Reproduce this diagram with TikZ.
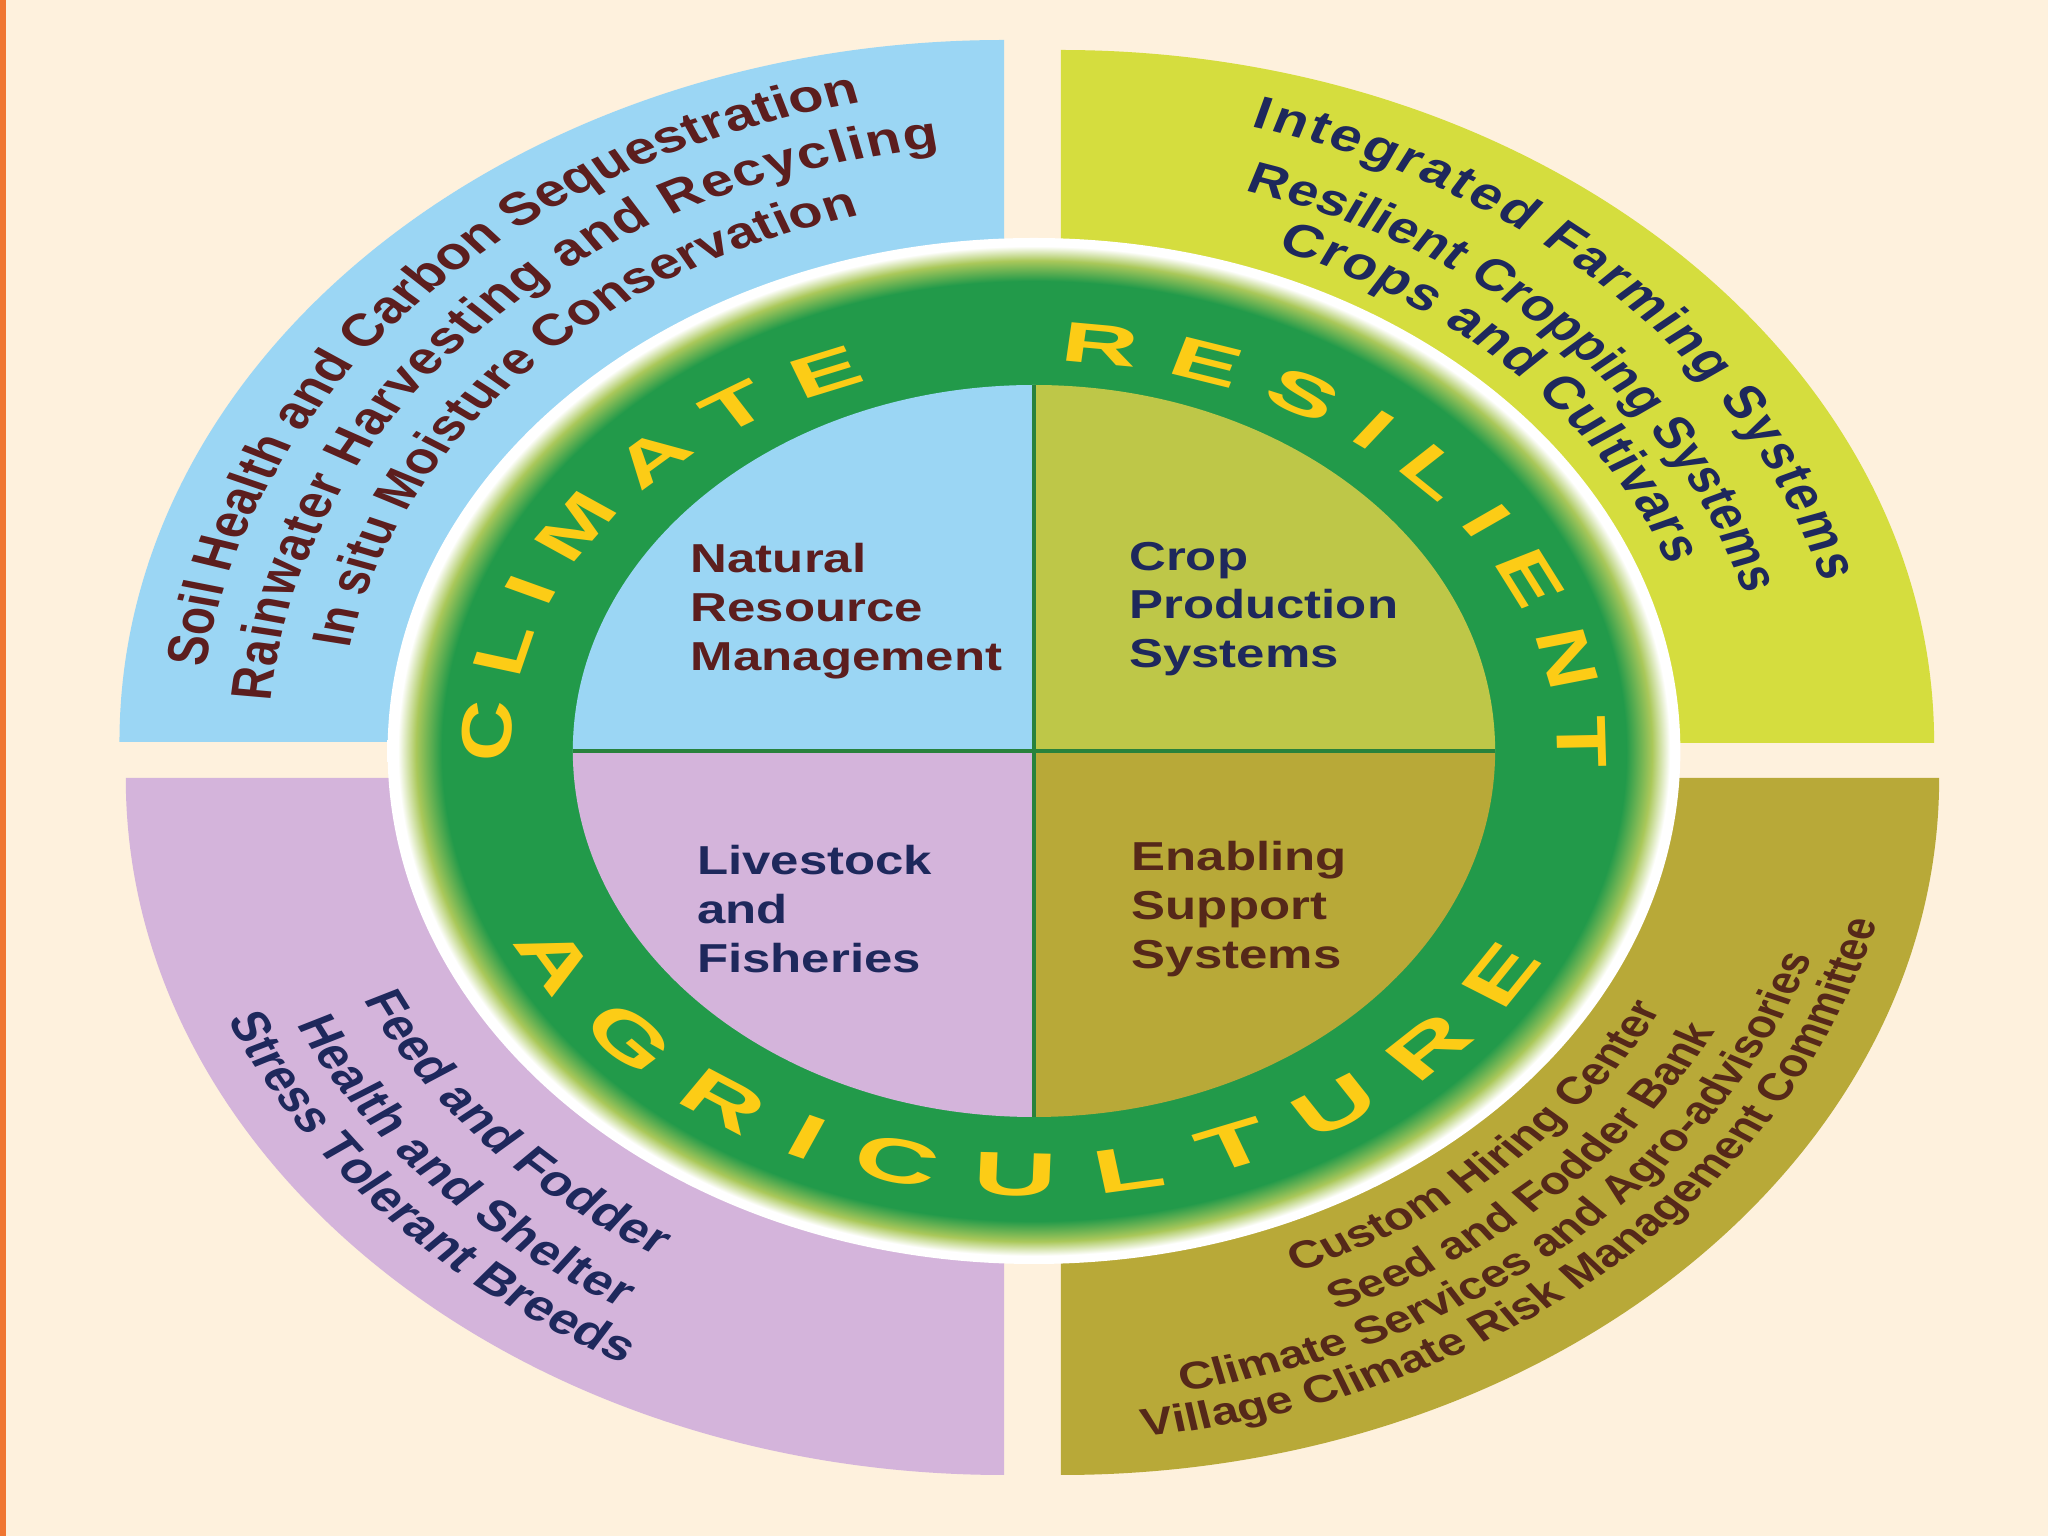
\documentclass[tikz,border=0pt]{standalone}
\usepackage{fontspec}
\setmainfont{Liberation Sans}
\newfontfamily\ringfont{Liberation Sans}[FakeStretch=1.5]
\usepackage{xcolor}
\usepackage{tikz}
\usetikzlibrary{decorations.text}
\definecolor{bgcream}{RGB}{254,241,221}
\definecolor{edgeorange}{RGB}{240,118,50}
\definecolor{nrmclr}{RGB}{155,214,244}
\definecolor{cropclr}{RGB}{213,221,62}
\definecolor{cropinclr}{RGB}{190,199,72}
\definecolor{liveclr}{RGB}{212,180,219}
\definecolor{enableclr}{RGB}{184,169,56}
\definecolor{ringclr}{RGB}{34,154,74}
\definecolor{glowclr}{RGB}{170,200,90}
\definecolor{letterclr}{RGB}{252,204,22}
\definecolor{crossclr}{RGB}{40,130,60}
\definecolor{maroonclr}{RGB}{92,30,30}
\definecolor{navyclr}{RGB}{30,40,92}
\definecolor{brownclr}{RGB}{85,40,25}
\pgfdeclareradialshading{ringglow}{\pgfpointorigin}{color(0bp)=(ringclr);
  color(22.9bp)=(ringclr); color(23.9bp)=(glowclr); color(24.6bp)=(white);
  color(50bp)=(white)}
\newcommand\ringletters{\ringfont\bfseries\fontsize{16}{18}\selectfont\color{letterclr}}
\newcommand\ringlower{\ringfont\bfseries\fontsize{17.5}{20}\selectfont\color{letterclr}}
\newcommand\nrmarc[1]{\fontsize{#1}{15}\selectfont\bfseries\color{maroonclr}}
\newcommand\croparc[1]{\fontsize{#1}{15}\selectfont\bfseries\color{navyclr}}
\newcommand\livearc{\fontsize{12.2}{15}\selectfont\bfseries\color{navyclr}}
\newcommand\enablearc{\fontsize{11}{13}\selectfont\bfseries\color{brownclr}}
\tikzset{
  hub/.style={anchor=west,align=left,inner sep=0pt,
              font=\fontsize{11.5}{13.9}\selectfont\bfseries},
  crossline/.style={draw=crossclr,line width=1.1pt},
  curvetext/.style 2 args={decorate,decoration={text along path,
              text align={fit to path},text={|#1|#2}}},
}
\begin{document}
\begin{tikzpicture}
\fill[bgcream] (-10.34,-7.85) rectangle (10.14,7.51);
\fill[edgeorange] (-10.34,-7.85) rectangle (-10.28,7.51);
\begin{scope}[transform canvas={xscale=1.26}]
% outer sectors
\fill[nrmclr] (-0.238,0.09) -- ++(-7.02,0)
  arc[start angle=180,end angle=90,radius=7.02] -- cycle;
\fill[cropclr] (0.214,0.08) -- ++(0,6.93)
  arc[start angle=90,end angle=0,radius=6.93] -- cycle;
\fill[liveclr] (-0.238,-0.27) -- ++(0,-6.97)
  arc[start angle=270,end angle=180,radius=6.97] -- cycle;
\fill[enableclr] (0.214,-0.27) -- ++(6.97,0)
  arc[start angle=0,end angle=-90,radius=6.97] -- cycle;
% ring and inner disk
\shade[shading=ringglow] (0,0) circle (5.13);
\fill[nrmclr] (0,0) -- (-3.66,0) arc[start angle=180,end angle=90,radius=3.66] -- cycle;
\fill[cropinclr] (0,0) -- (0,3.66) arc[start angle=90,end angle=0,radius=3.66] -- cycle;
\fill[liveclr] (0,0) -- (0,-3.66) arc[start angle=270,end angle=180,radius=3.66] -- cycle;
\fill[enableclr] (0,0) -- (3.66,0) arc[start angle=0,end angle=-90,radius=3.66] -- cycle;
\draw[crossline] (0,-3.66) -- (0,3.66);
\draw[crossline] (-3.66,0) -- (3.66,0);
\node[hub,text=maroonclr] (nrm) at (-2.73,1.40) {Natural\\Resource\\Management};
\node[hub,text=navyclr] (crop) at (0.75,1.42) {Crop\\Production\\Systems};
\node[hub,text=navyclr] (live) at (-2.68,-1.58) {Livestock\\and\\Fisheries};
\node[hub,text=brownclr] (enable) at (0.77,-1.58) {Enabling\\Support\\Systems};
% ring lettering
\path[curvetext={\ringletters}{CLIMATE}] (181.7:4.15 and 3.9)
  arc[start angle=181.7,end angle=108.5,x radius=4.15,y radius=3.9];
\path[curvetext={\ringletters}{RESILIENT}] (87.2:4.15 and 3.9)
  arc[start angle=87.2,end angle=-2.5,x radius=4.15,y radius=3.9];
\path[curvetext={\ringlower}{AGRICULTURE}] (205.4:4.58 and 4.45)
  arc[start angle=205.4,end angle=332,x radius=4.58,y radius=4.45];
% outer lettering
\path[curvetext={\nrmarc{13}}{Soil Health and Carbon Sequestration}] (172.8:6.63)
  arc[start angle=172.8,end angle=102.2,radius=6.63];
\path[curvetext={\nrmarc{13}}{Rainwater Harvesting and Recycling}] (175.3:6.08)
  arc[start angle=175.3,end angle=97.1,radius=6.08];
\path[curvetext={\nrmarc{12.6}}{In situ Moisture Conservation}] (169.3:5.53)
  arc[start angle=169.3,end angle=104.5,radius=5.53];
\path[curvetext={\croparc{13}}{Integrated Farming Systems}] (74.6:6.48)
  arc[start angle=74.6,end angle=15.2,radius=6.48];
\path[curvetext={\croparc{12.6}}{Resilient Cropping Systems}] (73.4:5.85)
  arc[start angle=73.4,end angle=15.6,radius=5.85];
\path[curvetext={\croparc{13}}{Crops and Cultivars}] (69:5.37)
  arc[start angle=69,end angle=20.3,radius=5.37];
\path[curvetext={\livearc}{Feed and Fodder}] (205:5.87)
  arc[start angle=205,end angle=239.4,radius=5.87];
\path[curvetext={\livearc}{Health and Shelter}] (205:6.46)
  arc[start angle=205,end angle=239.6,radius=6.46];
\path[curvetext={\livearc}{Stress Tolerant Breeds}] (202.8:6.94)
  arc[start angle=202.8,end angle=242,radius=6.94];
\path[curvetext={\enablearc}{Custom Hiring Center}] (291.8:5.61)
  arc[start angle=291.8,end angle=332.3,radius=5.61];
\path[curvetext={\enablearc}{Seed and Fodder Bank}] (293.2:6.09)
  arc[start angle=293.2,end angle=332.4,radius=6.09];
\path[curvetext={\enablearc}{Climate Services and Agro-advisories}] (280.4:6.51)
  arc[start angle=280.4,end angle=341.3,radius=6.51];
\path[curvetext={\enablearc}{Village Climate Risk Management Committee}] (277.2:6.91)
  arc[start angle=277.2,end angle=345.6,radius=6.91];
\end{scope}
\end{tikzpicture}
\end{document}
